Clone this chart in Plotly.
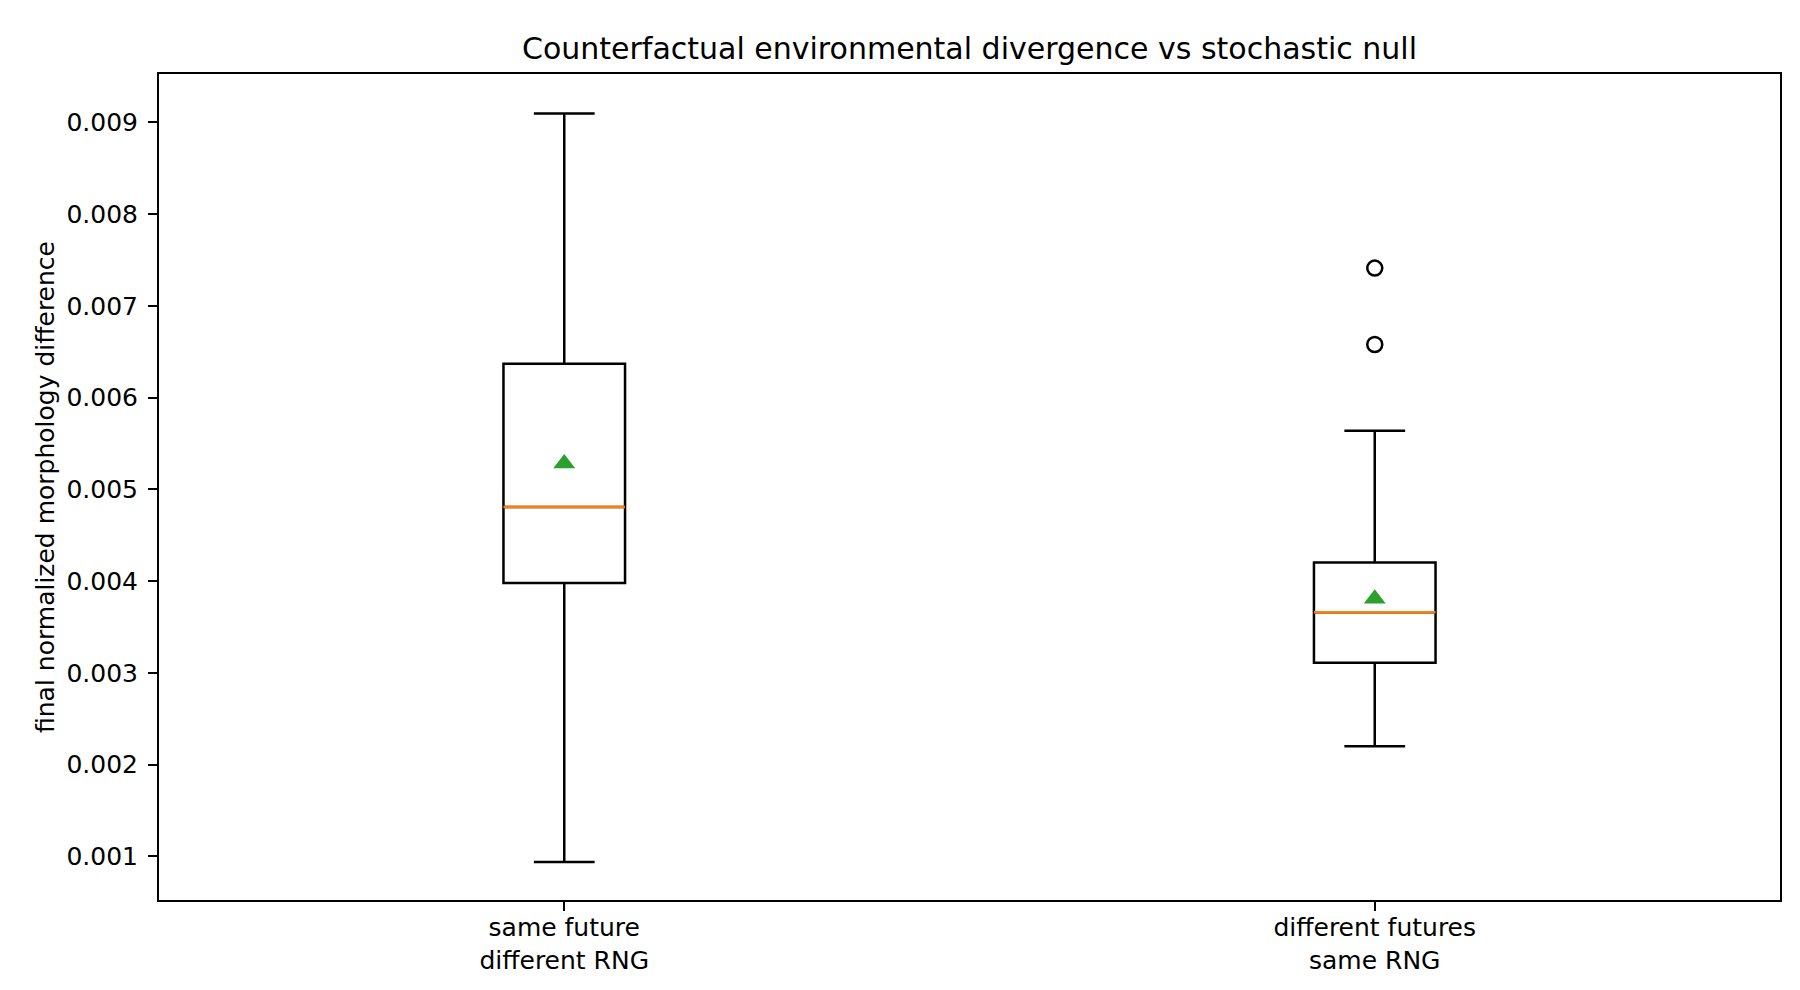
import plotly.graph_objects as go

# ---- data ----
categories = ["same future<br>different RNG", "different futures<br>same RNG"]
positions = [1, 2]
lower_whisker = [0.000938, 0.00220]
q1 = [0.003978, 0.003109]
median = [0.004808, 0.003659]
q3 = [0.006367, 0.004201]
upper_whisker = [0.009095, 0.005637]
means = [0.005280, 0.003807]
outlier_pos = [2, 2]
outlier_vals = [0.007411, 0.006578]

y_ticks = [0.001, 0.002, 0.003, 0.004, 0.005, 0.006, 0.007, 0.008, 0.009]

BOX_W = 0.15
LW = 2.5
SPINE = 2
FONT = "DejaVu Sans"
FS = 25

fig = go.Figure()

for i, p in enumerate(positions):
    fig.add_trace(go.Box(
        x=[p], q1=[q1[i]], median=[median[i]], q3=[q3[i]],
        lowerfence=[lower_whisker[i]], upperfence=[upper_whisker[i]],
        width=BOX_W, whiskerwidth=0.5,
        line=dict(color="black", width=LW), fillcolor="rgba(255,255,255,0)",
        boxpoints=False, showlegend=False, hoverinfo="skip",
    ))
    # orange median line over the box
    fig.add_trace(go.Scatter(
        x=[p - BOX_W / 2, p + BOX_W / 2], y=[median[i], median[i]],
        mode="lines", line=dict(color="#ff7f0e", width=LW),
        showlegend=False, hoverinfo="skip",
    ))

fig.add_trace(go.Scatter(
    x=positions, y=means, mode="markers",
    marker=dict(symbol="triangle-up", size=19, color="#2ca02c", line=dict(width=0)),
    showlegend=False,
))
fig.add_trace(go.Scatter(
    x=outlier_pos, y=outlier_vals, mode="markers",
    marker=dict(symbol="circle-open", size=15, color="black", line=dict(width=LW, color="black")),
    showlegend=False,
))

fig.update_layout(
    width=1800, height=990,
    margin=dict(l=151, r=28, t=66, b=98),
    paper_bgcolor="white", plot_bgcolor="white",
    font=dict(family=FONT, size=FS, color="black"),
    title=dict(text="Counterfactual environmental divergence vs stochastic null",
               x=(151 + 1772) / 2 / 1800, xanchor="center",
               y=1 - 40 / 990, yanchor="middle",
               font=dict(family=FONT, size=30, color="black")),
    boxmode="overlay",
)
fig.update_xaxes(
    range=[0.5, 2.5], tickmode="array", tickvals=positions, ticktext=categories,
    showgrid=False, zeroline=False, showline=True, linecolor="black", linewidth=SPINE,
    mirror=True, ticks="outside", ticklen=9, tickwidth=SPINE, tickcolor="black",
    ticklabelstandoff=-5,
    tickfont=dict(family=FONT, size=FS, color="black"),
)
fig.update_yaxes(
    range=[0.000524, 0.009526], tickmode="array", tickvals=y_ticks, tickformat=".3f",
    showgrid=False, zeroline=False, showline=True, linecolor="black", linewidth=SPINE,
    mirror=True, ticks="outside", ticklen=9, tickwidth=SPINE, tickcolor="black",
    ticklabelstandoff=5,
    tickfont=dict(family=FONT, size=FS, color="black"),
    title=dict(text="final normalized morphology difference", standoff=5,
               font=dict(family=FONT, size=FS, color="black")),
)

fig.write_html("out.html")
